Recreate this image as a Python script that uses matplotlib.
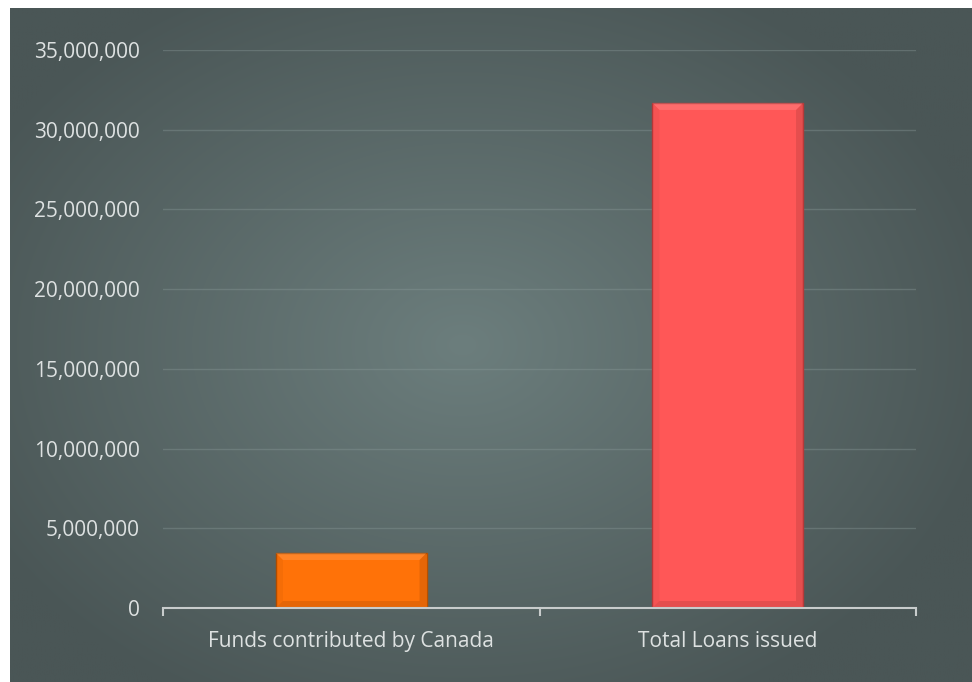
import numpy as np
import matplotlib
matplotlib.use("Agg")
import matplotlib.pyplot as plt
from matplotlib.ticker import FuncFormatter, MultipleLocator
from matplotlib.patches import Polygon

categories = ["Funds contributed by Canada", "Total Loans issued"]
values = [3450000, 31680000]
bar_colors = ["#ff7208", "#ff5757"]
edge_colors = ["#b65000", "#b83a3a"]

W, H = 972, 682
fig = plt.figure(figsize=(W / 100, H / 100), dpi=100)
fig.patch.set_facecolor("white")

# background with radial gradient
bg = fig.add_axes([10 / W, 0, 1 - 10 / W, 1 - 8 / H])
bg.set_axis_off()
yy, xx = np.mgrid[0:1:400j, 0:1:560j]
r = np.sqrt(((xx - 0.47) / 0.75) ** 2 + ((yy - 0.5) / 0.8) ** 2)
r = np.clip(r / 0.75, 0, 1)
c_in = np.array([0x6c, 0x7e, 0x7d]) / 255
c_out = np.array([0x4a, 0x56, 0x56]) / 255
img = c_in[None, None, :] * (1 - r[..., None]) + c_out[None, None, :] * r[..., None]
bg.imshow(img, aspect="auto", extent=[0, 1, 0, 1], interpolation="bilinear")
bg.set_xlim(0, 1)
bg.set_ylim(0, 1)

ax = fig.add_axes([163 / W, (H - 608) / H, (916 - 163) / W, (608 - 50) / H])
ax.patch.set_alpha(0)
x = np.arange(len(categories))
bw = 0.4
bars = ax.bar(x, values, width=bw, color=bar_colors, edgecolor=edge_colors,
              linewidth=1.0, zorder=3)

ymax = 35000000
ax.set_ylim(0, ymax)
ax.set_xlim(-0.5, 1.5)
px_x = 2.0 / (916 - 163)
px_y = ymax / (608 - 50)
# bevel effect
for b in bars:
    x0, w, h = b.get_x(), b.get_width(), b.get_height()
    dx, dy = 7 * px_x, 7 * px_y
    top = Polygon([[x0, h], [x0 + w, h], [x0 + w - dx, h - dy], [x0 + dx, h - dy]],
                  closed=True, facecolor="white", alpha=0.13, lw=0, zorder=4)
    left = Polygon([[x0, h], [x0 + dx, h - dy], [x0 + dx, dy], [x0, 0]],
                   closed=True, facecolor="black", alpha=0.04, lw=0, zorder=4)
    right = Polygon([[x0 + w, h], [x0 + w - dx, h - dy], [x0 + w - dx, dy], [x0 + w, 0]],
                    closed=True, facecolor="black", alpha=0.10, lw=0, zorder=4)
    bot = Polygon([[x0, 0], [x0 + w, 0], [x0 + w - dx, dy], [x0 + dx, dy]],
                  closed=True, facecolor="black", alpha=0.10, lw=0, zorder=4)
    for p in (top, left, right, bot):
        ax.add_patch(p)

ax.yaxis.set_major_locator(MultipleLocator(5000000))
ax.yaxis.set_major_formatter(FuncFormatter(lambda v, p: f"{int(v):,}"))
ax.grid(axis="y", color="#8a9a99", alpha=0.38, linewidth=1.0, zorder=0)
ax.set_axisbelow(True)

for s in ["top", "right", "left"]:
    ax.spines[s].set_visible(False)
ax.spines["bottom"].set_color("#c8cccc")
ax.spines["bottom"].set_linewidth(1.5)
ax.spines["bottom"].set_zorder(5)

ax.set_xticks(x)
ax.set_xticklabels(categories)
ax.set_xticks([-0.5, 0.5, 1.5], minor=True)
ax.tick_params(axis="x", which="major", length=0, pad=16.5, labelsize=15,
               labelcolor="#dde1e1")
ax.tick_params(axis="x", which="minor", length=6, width=1.5, color="#c8cccc",
               direction="out")
ax.tick_params(axis="y", length=0, pad=16.5, labelsize=15, labelcolor="#dde1e1")
for lbl in ax.get_xticklabels() + ax.get_yticklabels():
    lbl.set_fontfamily("Open Sans")

fig.savefig("out.png", dpi=100, facecolor=fig.get_facecolor())
